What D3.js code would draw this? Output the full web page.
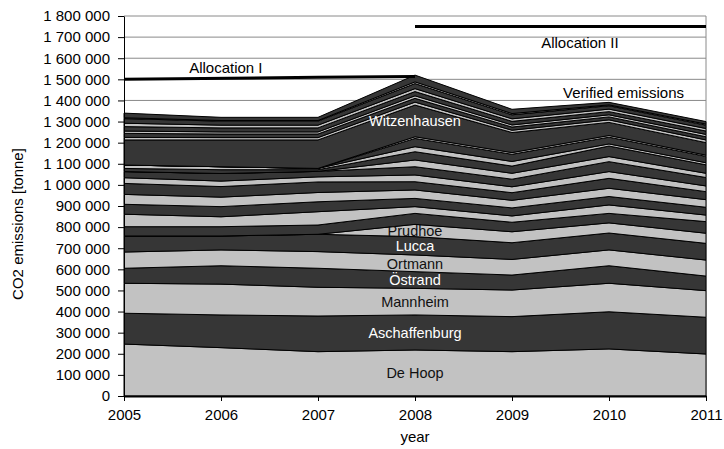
<!DOCTYPE html>
<html>
<head>
<meta charset="utf-8">
<script src="https://cdn.jsdelivr.net/npm/d3@7"></script>
<style>
  body { margin: 0; background: #fff; }
  svg { display: block; font-family: "Liberation Sans", Arial, sans-serif; }
</style>
</head>
<body>
<svg id="chart"></svg>
<script>
// years on the x axis
const YEARS = [2005, 2006, 2007, 2008, 2009, 2010, 2011];

// CO2 emissions per site [tonne], stacked bottom -> top, one value per year
const deHoop = [246000, 229000, 210000, 218000, 210000, 223000, 199000];
const aschaffenburg = [146000, 155000, 169000, 166000, 166000, 176000, 174000];
const mannheim = [142000, 146000, 136000, 126000, 126000, 135000, 126000];
const ostrand = [71000, 87000, 90000, 79000, 71000, 83000, 69000];
const ortmann = [77000, 75000, 79000, 79000, 74000, 75000, 76000];
const lucca = [76000, 66000, 82000, 87000, 79000, 80000, 79000];
const prudhoe = [0, 0, 0, 58000, 52000, 48000, 48000];
const site08 = [44000, 44000, 44000, 52000, 45000, 45000, 55000];
const site09 = [59000, 47000, 63000, 32000, 30000, 40000, 31000];
const site10 = [47000, 48000, 47000, 39000, 38000, 40000, 37000];
const site11 = [47000, 45000, 44000, 40000, 36000, 39000, 36000];
const site12 = [52000, 50000, 50000, 39000, 36000, 47000, 38000];
const site13 = [27000, 26000, 24000, 32000, 28000, 32000, 27000];
const site14 = [29000, 36000, 26000, 39000, 36000, 47000, 40000];
const site15 = [0, 0, 0, 32000, 28000, 24000, 20000];
const site16 = [15000, 18000, 8000, 39000, 34000, 50000, 40000];
const site17 = [16000, 14000, 6000, 24000, 22000, 10000, 10000];
const site18 = [0, 0, 0, 39000, 34000, 32000, 30000];
const site19 = [0, 0, 0, 8000, 8000, 8000, 6000];
const witzenhausen = [119000, 127000, 135000, 150000, 95000, 62000, 59000];
const site21 = [12000, 11000, 11000, 14000, 11000, 12000, 13000];
const site22 = [19000, 17000, 17000, 18000, 15000, 14000, 15000];
const site23 = [11000, 10000, 10000, 12000, 10000, 10000, 11000];
const site24 = [21000, 19000, 19000, 20000, 17000, 15000, 16000];
const site25 = [16000, 13000, 13000, 14000, 12000, 12000, 12000];
const site26 = [22000, 19000, 19000, 24000, 19000, 16000, 16000];
const site27 = [4000, 3000, 3000, 8000, 6000, 4000, 5000];
const site28 = [22000, 15000, 15000, 32000, 20000, 12000, 12000];

const SITE_NAMES = [
  "De Hoop", "Aschaffenburg", "Mannheim", "Östrand", "Ortmann", "Lucca", "Prudhoe",
  "site08", "site09", "site10", "site11", "site12", "site13", "site14", "site15",
  "site16", "site17", "site18", "site19", "Witzenhausen",
  "site21", "site22", "site23", "site24", "site25", "site26", "site27", "site28",
];
const SITE_VALUES = [
  deHoop, aschaffenburg, mannheim, ostrand, ortmann, lucca, prudhoe,
  site08, site09, site10, site11, site12, site13, site14, site15,
  site16, site17, site18, site19, witzenhausen,
  site21, site22, site23, site24, site25, site26, site27, site28,
];
// sites that carry a name label in the chart
const LABELLED = ["De Hoop", "Aschaffenburg", "Mannheim", "Östrand", "Ortmann", "Lucca", "Prudhoe", "Witzenhausen"];

// allocation lines
const allocIYears = [2005, 2007, 2008];
const allocIValues = [1500000, 1510000, 1513000];
const allocIIYears = [2008, 2011];
const allocIIValues = [1750000, 1750000];

const Y_TICKS = d3.range(0, 1800001, 100000);

function main() {
  const layout = {
    width: 724,
    height: 449,
    margin: { left: 124, right: 18, top: 16, bottom: 53 },
    light: "#c2c2c2",
    dark: "#363636",
  };
  const { width, height, margin } = layout;
  const innerWidth = width - margin.left - margin.right;
  const innerHeight = height - margin.top - margin.bottom;

  const svg = d3.select("#chart").attr("width", width).attr("height", height);
  const plot = svg.append("g").attr("transform", `translate(${margin.left}, ${margin.top})`);

  const xScale = d3.scaleLinear().domain([2005, 2011]).range([0, innerWidth]);
  const yScale = d3.scaleLinear().domain([0, 1800000]).range([innerHeight, 0]);

  // table for d3.stack
  const rows = YEARS.map((year, i) => {
    const row = { year };
    SITE_NAMES.forEach((name, k) => (row[name] = SITE_VALUES[k][i]));
    return row;
  });
  const series = d3.stack().keys(SITE_NAMES)(rows);

  // grid lines + frame
  plot
    .selectAll("line.grid")
    .data(Y_TICKS.slice(1))
    .join("line")
    .attr("class", "grid")
    .attr("x1", 0)
    .attr("x2", innerWidth)
    .attr("y1", (d) => yScale(d))
    .attr("y2", (d) => yScale(d))
    .attr("stroke", "#8a8a8a")
    .attr("stroke-width", 1);
  plot
    .append("line")
    .attr("x1", innerWidth)
    .attr("x2", innerWidth)
    .attr("y1", 0)
    .attr("y2", innerHeight)
    .attr("stroke", "#8a8a8a");

  // stacked areas
  const area = d3
    .area()
    .x((d) => xScale(d.data.year))
    .y0((d) => yScale(d[0]))
    .y1((d) => yScale(d[1]));
  plot
    .selectAll("path.layer")
    .data(series)
    .join("path")
    .attr("class", "layer")
    .attr("d", area)
    .attr("fill", (d) => (d.index % 2 === 0 ? layout.light : layout.dark))
    .attr("stroke", "#000")
    .attr("stroke-width", 1)
    .attr("stroke-linejoin", "round");

  // allocation lines
  const line = d3
    .line()
    .x((d) => xScale(d[0]))
    .y((d) => yScale(d[1]));
  plot
    .selectAll("path.alloc")
    .data([d3.zip(allocIYears, allocIValues), d3.zip(allocIIYears, allocIIValues)])
    .join("path")
    .attr("class", "alloc")
    .attr("d", line)
    .attr("fill", "none")
    .attr("stroke", "#000")
    .attr("stroke-width", 3);

  // site labels at 2008
  const labelIdx = YEARS.indexOf(2008);
  plot
    .selectAll("text.site")
    .data(series.filter((s) => LABELLED.includes(s.key)))
    .join("text")
    .attr("class", "site")
    .attr("x", xScale(2008))
    .attr("y", (s) => yScale((s[labelIdx][0] + s[labelIdx][1]) / 2))
    .attr("dy", "0.36em")
    .attr("text-anchor", "middle")
    .attr("font-size", 14.5)
    .attr("fill", (s) => (s.index % 2 === 0 ? "#111" : "#fff"))
    .text((s) => s.key);

  // annotations
  const notes = [
    { text: "Allocation I", year: 2006.05, value: 1530000 },
    { text: "Allocation II", year: 2009.7, value: 1650000 },
    { text: "Verified emissions", year: 2010.15, value: 1412000 },
  ];
  plot
    .selectAll("text.note")
    .data(notes)
    .join("text")
    .attr("class", "note")
    .attr("x", (d) => xScale(d.year))
    .attr("y", (d) => yScale(d.value))
    .attr("text-anchor", "middle")
    .attr("font-size", 15)
    .attr("fill", "#000")
    .text((d) => d.text);

  // y axis
  const yAxis = plot
    .append("g")
    .call(
      d3
        .axisLeft(yScale)
        .tickValues(Y_TICKS)
        .tickSize(6)
        .tickSizeOuter(0)
        .tickPadding(8)
        .tickFormat((d) => d3.format(",")(d).replace(/,/g, " "))
    );
  yAxis.selectAll("text").attr("font-size", 15).attr("fill", "#000");
  yAxis.select(".domain").attr("stroke", "#000");

  // x axis
  const xAxis = plot
    .append("g")
    .attr("transform", `translate(0, ${innerHeight})`)
    .call(
      d3
        .axisBottom(xScale)
        .tickValues(YEARS)
        .tickSize(5)
        .tickSizeOuter(0)
        .tickPadding(8)
        .tickFormat(d3.format("d"))
    );
  xAxis.selectAll("text").attr("font-size", 15).attr("fill", "#000");
  xAxis.select(".domain").attr("stroke", "#000").attr("stroke-width", 2);

  // axis titles
  svg
    .append("text")
    .attr("x", margin.left + xScale(2008))
    .attr("y", 442)
    .attr("text-anchor", "middle")
    .attr("font-size", 15)
    .attr("fill", "#000")
    .text("year");
  svg
    .append("text")
    .attr("transform", `translate(23, ${margin.top + innerHeight / 2 + 18}) rotate(-90)`)
    .attr("text-anchor", "middle")
    .attr("font-size", 15)
    .attr("fill", "#000")
    .text("CO2 emissions [tonne]");
}

main();
</script>
</body>
</html>
